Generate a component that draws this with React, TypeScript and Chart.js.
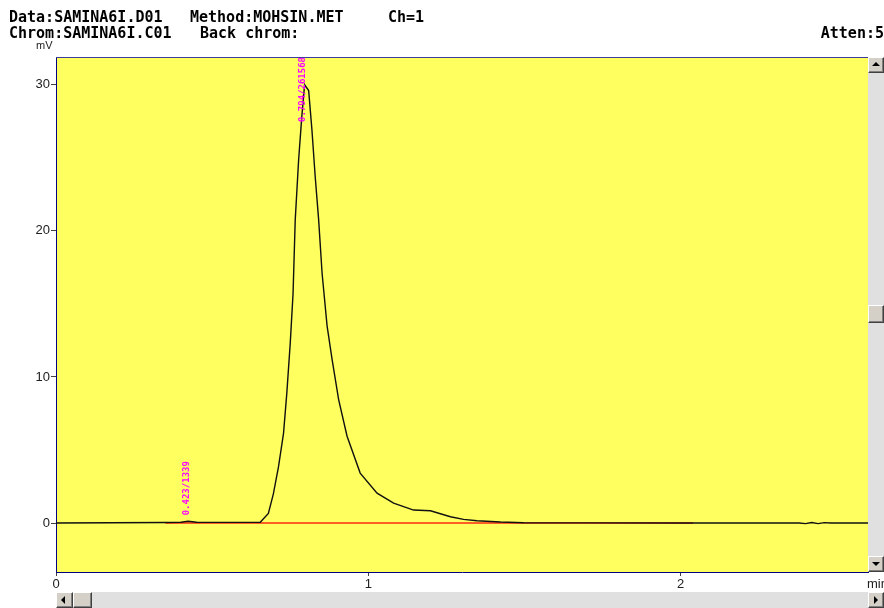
import React, { useEffect, useRef } from "react";
import { Chart, registerables } from "chart.js";
Chart.register(...registerables);

// Chromatogram trace (time in min, signal in mV)
const traceTimes = [
  0, 0.35, 0.4, 0.423, 0.45, 0.55, 0.654, 0.68, 0.696, 0.7125, 0.7285, 0.739, 0.75, 0.759,
  0.766, 0.777, 0.787, 0.796, 0.809, 0.8195, 0.83, 0.841, 0.852, 0.868, 0.884, 0.905, 0.932,
  0.974, 1.028, 1.081, 1.145, 1.199, 1.263, 1.305, 1.348, 1.423, 1.497, 1.7, 2.0, 2.38, 2.4,
  2.42, 2.44, 2.46, 2.48, 2.6,
];
const traceValues = [
  0, 0.04, 0.06, 0.12, 0.06, 0.05, 0.05, 0.66, 2.0, 3.86, 6.14, 8.88, 12.3, 15.7,
  20.75, 24.9, 27.8, 30.0, 29.6, 26.9, 23.7, 20.75, 17.1, 13.5, 11.2, 8.45, 5.94,
  3.42, 2.05, 1.37, 0.89, 0.84, 0.43, 0.25, 0.16, 0.07, 0.02, 0.01, 0.0, 0.0, -0.04,
  0.04, -0.04, 0.03, 0.0, 0.0,
];
// Integration baseline
const baselineTimes = [0.35, 2.04];
const baselineValues = [0, 0];
// Peak annotations
const peakTimes = [0.423, 0.794];
const peakHeights = [0.12, 30.0];
const peakAreas = [1339, 261568];
// Axes
const xTicks = [0, 1, 2];
const yTicks = [0, 10, 20, 30];
const xMin = 0;
const xMax = 2.6;
const yMin = -3.35;
const yMax = 31.9;

const headerFont = "bold 15px 'DejaVu Sans Mono', monospace";

function Tri({ dir }: { dir: "up" | "down" | "left" | "right" }) {
  const s: React.CSSProperties = { position: "absolute", width: 0, height: 0 };
  if (dir === "up") Object.assign(s, { left: 3, top: 4, borderLeft: "4px solid transparent", borderRight: "4px solid transparent", borderBottom: "4px solid #000" });
  if (dir === "down") Object.assign(s, { left: 3, top: 5, borderLeft: "4px solid transparent", borderRight: "4px solid transparent", borderTop: "4px solid #000" });
  if (dir === "left") Object.assign(s, { left: 4, top: 3, borderTop: "4px solid transparent", borderBottom: "4px solid transparent", borderRight: "4px solid #000" });
  if (dir === "right") Object.assign(s, { left: 5, top: 3, borderTop: "4px solid transparent", borderBottom: "4px solid transparent", borderLeft: "4px solid #000" });
  return <div style={s} />;
}

function Btn({ left, top, w, h, dir }: { left: number; top: number; w: number; h: number; dir?: "up" | "down" | "left" | "right" }) {
  return (
    <div
      style={{
        position: "absolute", left, top, width: w, height: h, boxSizing: "border-box",
        background: "#d4d0c8", borderTop: "1px solid #ffffff", borderLeft: "1px solid #ffffff",
        borderRight: "1px solid #404040", borderBottom: "1px solid #404040",
        boxShadow: "inset -1px -1px #808080",
      }}
    >
      {dir ? <Tri dir={dir} /> : null}
    </div>
  );
}

const track: React.CSSProperties = {
  position: "absolute",
  background: "#e0e0e0",
};

export default function App() {
  const ref = useRef<HTMLCanvasElement>(null);
  useEffect(() => {
    const canvas = ref.current!;

    const plugin = {
      id: "chromDecor",
      beforeDraw(chart: any) {
        const { ctx, chartArea: a } = chart;
        ctx.save();
        ctx.fillStyle = "#ffff60";
        ctx.fillRect(a.left, a.top, a.right - a.left, a.bottom - a.top);
        ctx.restore();
      },
      afterDatasetsDraw(chart: any) {
        const { ctx, chartArea: a, scales } = chart;
        ctx.save();
        ctx.beginPath();
        ctx.rect(a.left, a.top, a.right - a.left, a.bottom - a.top);
        ctx.clip();
        ctx.font = "bold 9px 'DejaVu Sans Mono', monospace";
        ctx.fillStyle = "#ff00ff";
        ctx.textAlign = "left";
        ctx.textBaseline = "middle";
        peakTimes.forEach((t, i) => {
          const label = `${t.toFixed(3)}/${peakAreas[i]}`;
          const w = ctx.measureText(label).width;
          const x = scales.x.getPixelForValue(t) - 1.5;
          let bottom = scales.y.getPixelForValue(peakHeights[i]) - 6;
          if (bottom - w < a.top) bottom = a.top + w;
          ctx.save();
          ctx.translate(x, bottom);
          ctx.rotate(-Math.PI / 2);
          ctx.fillText(label, 0, 0);
          ctx.restore();
        });
        ctx.restore();
        ctx.save();
        ctx.strokeStyle = "#3c3c9c";
        ctx.lineWidth = 1;
        ctx.beginPath();
        ctx.moveTo(a.left, a.top + 0.5);
        ctx.lineTo(a.right, a.top + 0.5);
        ctx.stroke();
        ctx.restore();
      },
    };

    const chart = new Chart(canvas, {
      type: "line",
      data: {
        datasets: [
          {
            data: traceTimes.map((t, i) => ({ x: t, y: traceValues[i] })),
            borderColor: "#101010",
            borderWidth: 1.4,
            pointRadius: 0,
            tension: 0,
          },
          {
            data: baselineTimes.map((t, i) => ({ x: t, y: baselineValues[i] })),
            borderColor: "#ff2a10",
            borderWidth: 1.5,
            pointRadius: 0,
            tension: 0,
          },
        ],
      },
      options: {
        animation: false,
        responsive: false,
        events: [],
        layout: { padding: { left: 0, top: 57, right: 16, bottom: 0 } },
        plugins: { legend: { display: false }, tooltip: { enabled: false } },
        scales: {
          x: {
            type: "linear",
            min: xMin,
            max: xMax,
            afterFit: (s: any) => { s.height = 36; },
            afterBuildTicks: (s: any) => { s.ticks = xTicks.map((v) => ({ value: v })); },
            grid: { drawOnChartArea: false, drawTicks: true, tickLength: 4, color: "#404040" },
            border: { color: "#000080", width: 1 },
            ticks: {
              padding: 1,
              color: "#202020",
              font: { family: "'Liberation Sans', Arial, sans-serif", size: 13 },
              maxRotation: 0,
              callback: (v: any) => String(v),
            },
          },
          y: {
            type: "linear",
            min: yMin,
            max: yMax,
            afterFit: (s: any) => { s.width = 56; },
            afterBuildTicks: (s: any) => { s.ticks = yTicks.map((v) => ({ value: v })); },
            grid: { drawOnChartArea: false, drawTicks: true, tickLength: 5, color: "#404040" },
            border: { color: "#000080", width: 1 },
            ticks: {
              padding: 1,
              color: "#202020",
              font: { family: "'Liberation Sans', Arial, sans-serif", size: 13 },
              callback: (v: any) => String(v),
            },
          },
        },
      },
      plugins: [plugin],
    } as any);
    return () => chart.destroy();
  }, []);

  const hdr: React.CSSProperties = {
    position: "absolute", font: headerFont, color: "#000", whiteSpace: "pre", lineHeight: "15px",
  };

  return (
    <div style={{ position: "fixed", left: 0, top: 0, width: 884, height: 608, overflow: "hidden", background: "#fff" }}>
      <canvas ref={ref} width={884} height={608} style={{ position: "absolute", left: 0, top: 0, width: 884, height: 608 }} />
      <div style={{ ...hdr, left: 9, top: 10 }}>Data:SAMINA6I.D01</div>
      <div style={{ ...hdr, left: 190, top: 10 }}>Method:MOHSIN.MET</div>
      <div style={{ ...hdr, left: 388, top: 10 }}>Ch=1</div>
      <div style={{ ...hdr, left: 9, top: 26 }}>Chrom:SAMINA6I.C01</div>
      <div style={{ ...hdr, left: 200, top: 26 }}>Back chrom:</div>
      <div style={{ ...hdr, right: 0, top: 26 }}>Atten:5</div>
      <div style={{ position: "absolute", left: 36, top: 40, font: "11px 'Liberation Sans', Arial, sans-serif", color: "#202020", lineHeight: "11px" }}>mV</div>
      <div style={{ position: "absolute", left: 867, top: 576, font: "13px 'Liberation Sans', Arial, sans-serif", color: "#202020", lineHeight: "15px", whiteSpace: "pre" }}>min</div>
      {/* vertical scrollbar */}
      <div style={{ ...track, left: 868, top: 57, width: 16, height: 515 }} />
      <Btn left={868} top={57} w={16} h={16} dir="up" />
      <Btn left={868} top={305} w={16} h={18} />
      <Btn left={868} top={556} w={16} h={16} dir="down" />
      {/* horizontal scrollbar */}
      <div style={{ ...track, left: 56, top: 592, width: 828, height: 16 }} />
      <Btn left={56} top={592} w={17} h={16} dir="left" />
      <Btn left={73} top={592} w={19} h={16} />
      <Btn left={868} top={592} w={16} h={16} dir="right" />
    </div>
  );
}
